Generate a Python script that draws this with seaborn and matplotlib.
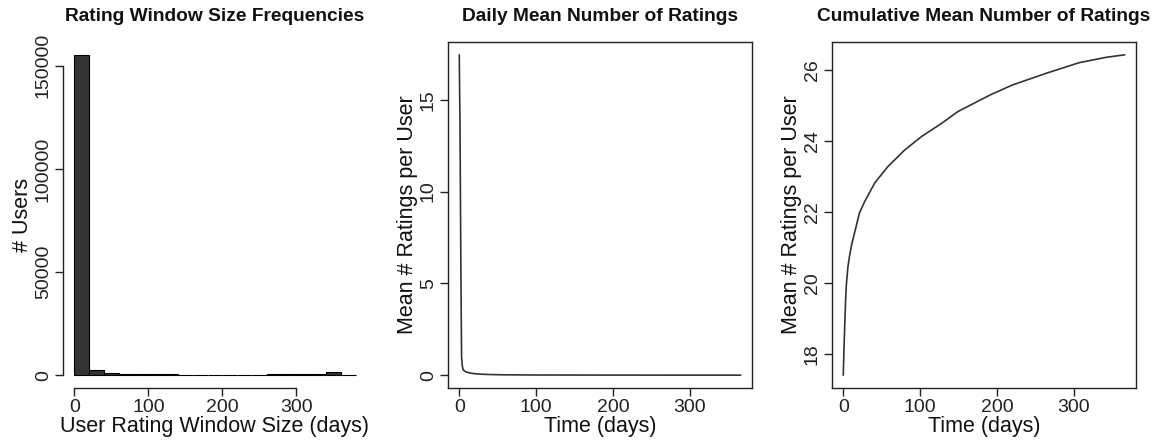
import matplotlib
matplotlib.use("Agg")
import matplotlib.pyplot as plt
import seaborn as sns
import pandas as pd

# Histogram of user rating window sizes (20-day bins)
window_bin_start = [0, 20, 40, 60, 80, 100, 120, 140, 160, 180, 200, 220, 240, 260, 280, 300, 320, 340, 360]
user_counts = [155300, 2500, 1300, 700, 650, 400, 350, 300, 300, 300, 300, 300, 300, 350, 500, 600, 700, 1500, 300]
bin_width = 20

# Daily mean number of ratings per user
daily_day = [0, 1, 2, 3, 4, 5, 7, 10, 15, 20, 30, 45, 60, 100, 150, 200, 250, 300, 366]
daily_mean = [17.45, 13.4, 6.5, 1.0, 0.5, 0.3, 0.22, 0.16, 0.11, 0.08, 0.05, 0.03, 0.02,
              0.01, 0.008, 0.005, 0.004, 0.003, 0.002]

# Cumulative mean number of ratings per user
cum_day = [0, 1, 2, 3, 4, 6, 8, 11, 15, 21, 28, 41, 58, 80, 102, 128, 149, 174, 193, 220,
           264, 307, 342, 366]
cum_mean = [17.41, 18.2, 18.85, 19.5, 19.95, 20.45, 20.75, 21.1, 21.45, 21.98, 22.31, 22.83,
            23.29, 23.76, 24.14, 24.51, 24.84, 25.12, 25.33, 25.59, 25.92, 26.22, 26.37, 26.44]

sns.set_theme(style="white")
plt.rcParams["font.family"] = ["Liberation Sans", "DejaVu Sans"]
plt.rcParams["axes.edgecolor"] = "#222222"
plt.rcParams["xtick.color"] = "#222222"
plt.rcParams["ytick.color"] = "#222222"
plt.rcParams["text.color"] = "#111111"
plt.rcParams["axes.labelcolor"] = "#111111"

W, H = 1156, 445
fig = plt.figure(figsize=(W / 100, H / 100), dpi=100)

def panel_axes(left_px):
    return fig.add_axes([left_px / W, (H - 388) / H, 304 / W, 346 / H])

ax1 = panel_axes(63)
ax2 = panel_axes(448)
ax3 = panel_axes(832)

def padded(lo, hi, f=0.04):
    d = hi - lo
    return lo - f * d, hi + f * d

title_kw = dict(fontsize=13.8, fontweight="bold", pad=15)
label_kw = dict(fontsize=15.5)
tick_fs = 14
line_color = "#333333"

# Panel 1: histogram
edges = list(window_bin_start) + [window_bin_start[-1] + bin_width]
hist_df = pd.DataFrame({"window": window_bin_start, "users": user_counts})
sns.histplot(data=hist_df, x="window", weights="users", bins=edges, ax=ax1,
             color="#333333", edgecolor="black", linewidth=0.8, alpha=1.0)
ax1.set_xlim(*padded(edges[0], edges[-1]))
ax1.set_ylim(*padded(0, max(user_counts)))
ax1.set_xticks([0, 100, 200, 300])
ax1.set_yticks([0, 50000, 100000, 150000])
for s in ["top", "right"]:
    ax1.spines[s].set_visible(False)
ax1.spines["left"].set_bounds(0, 150000)
ax1.spines["bottom"].set_bounds(0, 300)
ax1.set_title("Rating Window Size Frequencies", **title_kw)
ax1.set_xlabel("User Rating Window Size (days)", labelpad=0, **label_kw)
ax1.set_ylabel("# Users", labelpad=1, **label_kw)

# Panel 2: daily mean
daily_df = pd.DataFrame({"day": daily_day, "mean": daily_mean})
sns.lineplot(data=daily_df, x="day", y="mean", ax=ax2, color=line_color, linewidth=1.2)
ax2.set_xlim(*padded(min(daily_day), max(daily_day)))
ax2.set_ylim(*padded(0, max(daily_mean)))
ax2.set_xticks([0, 100, 200, 300])
ax2.set_yticks([0, 5, 10, 15])
ax2.set_title("Daily Mean Number of Ratings", **title_kw)
ax2.set_xlabel("Time (days)", labelpad=0, **label_kw)
ax2.set_ylabel("Mean # Ratings per User", labelpad=1, **label_kw)

# Panel 3: cumulative mean
cum_df = pd.DataFrame({"day": cum_day, "mean": cum_mean})
sns.lineplot(data=cum_df, x="day", y="mean", ax=ax3, color=line_color, linewidth=1.2)
ax3.set_xlim(*padded(min(cum_day), max(cum_day)))
ax3.set_ylim(*padded(min(cum_mean), max(cum_mean)))
ax3.set_xticks([0, 100, 200, 300])
ax3.set_yticks([18, 20, 22, 24, 26])
ax3.set_title("Cumulative Mean Number of Ratings", **title_kw)
ax3.set_xlabel("Time (days)", labelpad=0, **label_kw)
ax3.set_ylabel("Mean # Ratings per User", labelpad=1, **label_kw)

for ax in (ax1, ax2, ax3):
    ax.tick_params(axis="both", direction="out", length=6, width=1, labelsize=tick_fs,
                   left=True, bottom=True, pad=2)
    for sp in ax.spines.values():
        sp.set_linewidth(1.0)
    plt.setp(ax.get_yticklabels(), rotation=90, va="center")

fig.savefig("out.png", dpi=100, facecolor="white")
